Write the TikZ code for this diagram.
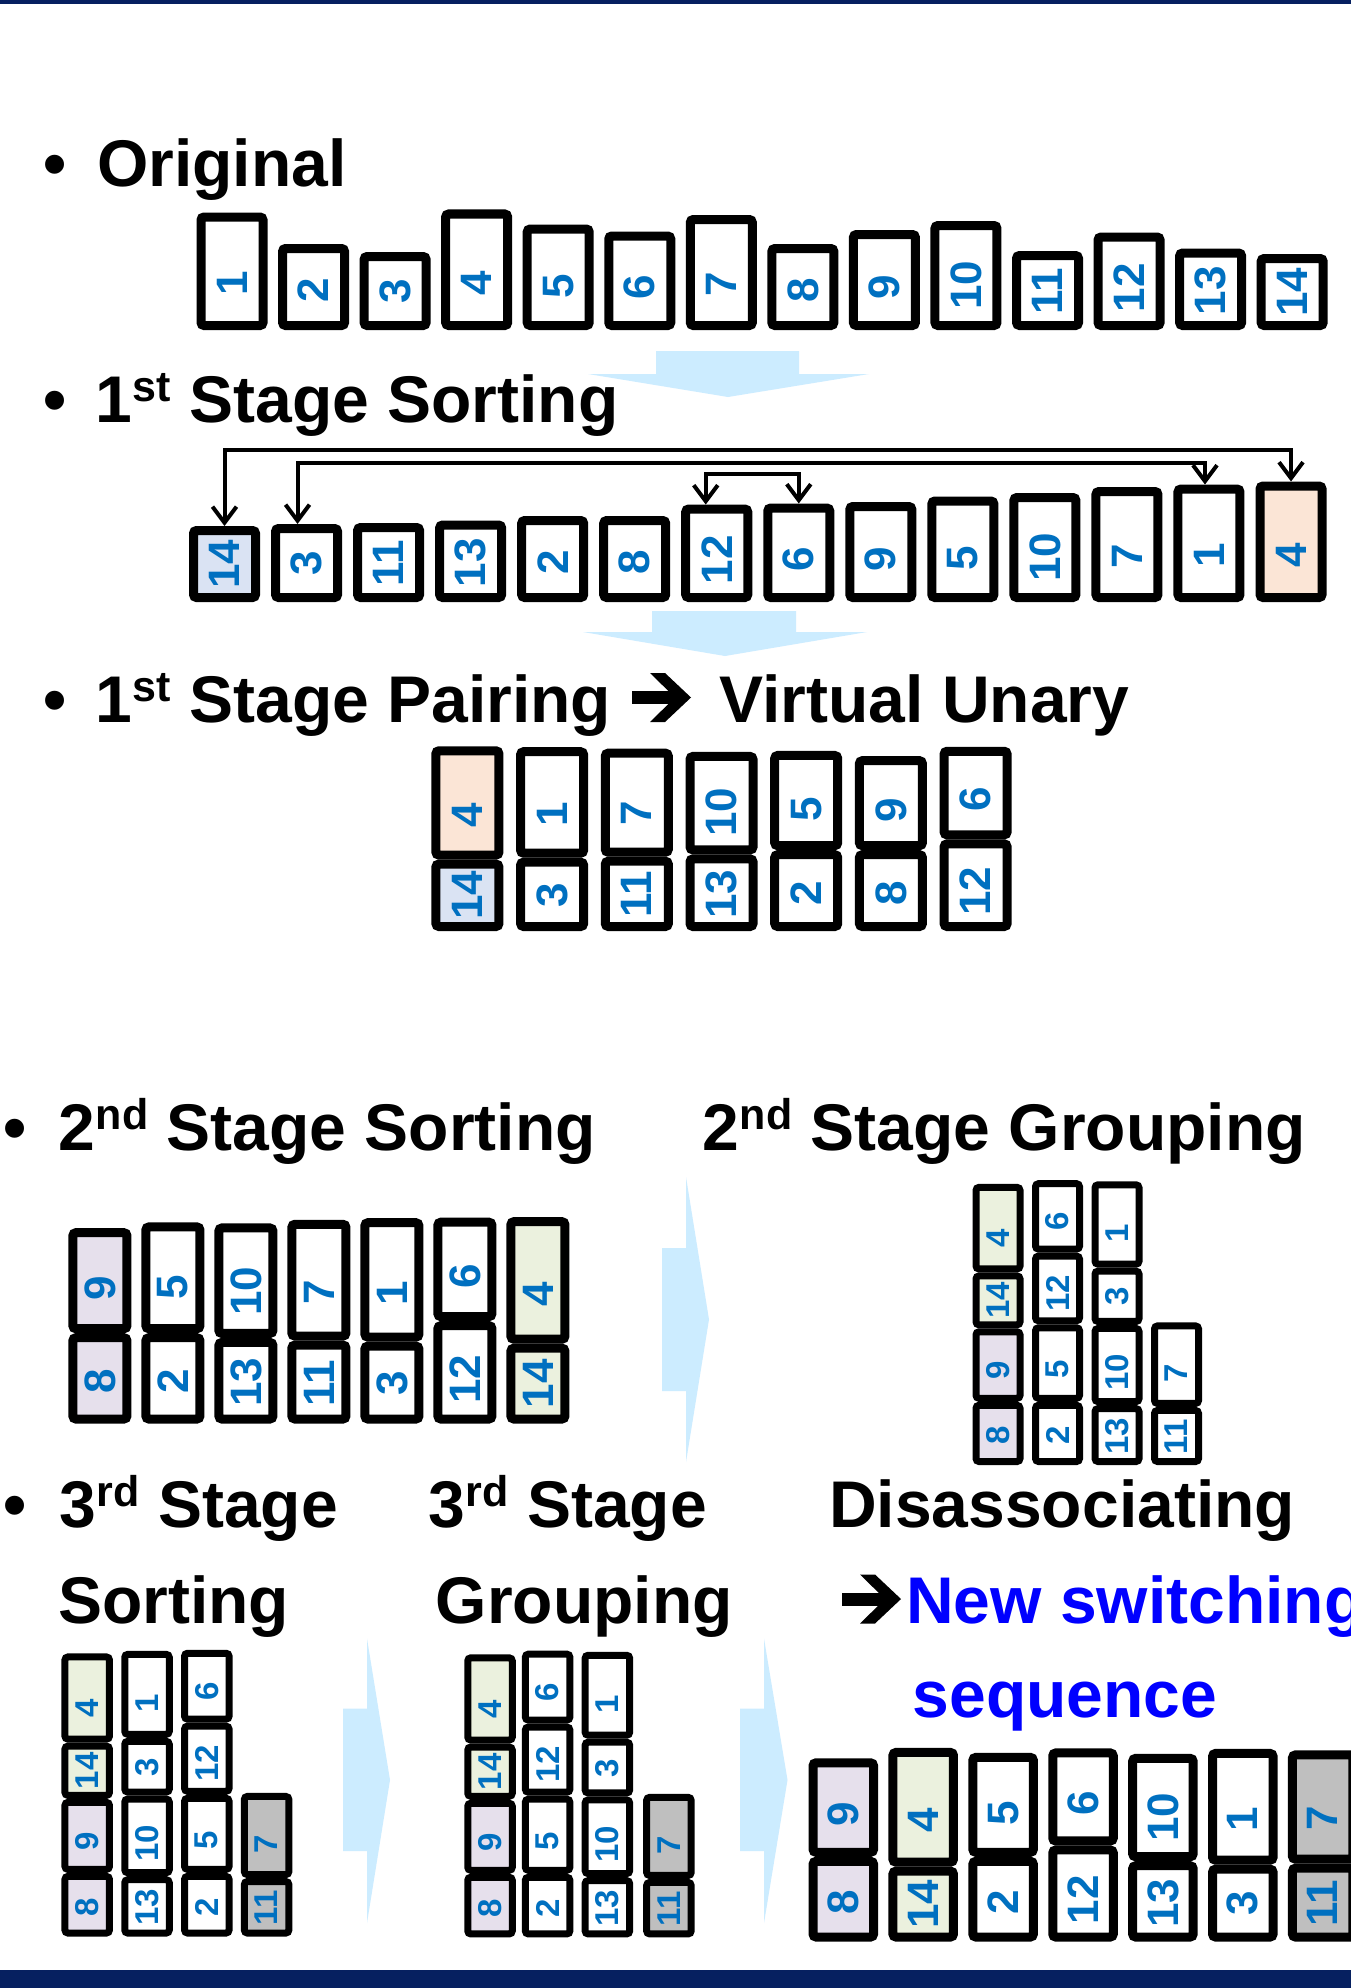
\documentclass[tikz,border=0pt]{standalone}
\usepackage{fontspec}
\setmainfont{Liberation Sans}
\usetikzlibrary{arrows.meta}

\definecolor{navy}{RGB}{6,32,96}
\definecolor{numblue}{RGB}{0,112,192}
\definecolor{pale}{RGB}{204,236,255}
\definecolor{fblue}{RGB}{218,227,243}
\definecolor{forange}{RGB}{251,229,214}
\definecolor{flav}{RGB}{230,224,236}
\definecolor{fgreen}{RGB}{235,241,222}
\definecolor{fgray}{RGB}{191,191,191}
\definecolor{linkblue}{RGB}{0,0,255}

% nominal height of each numbered cell
\newcommand\htof[1]{\ifcase#1\or117.5\or86\or78\or120.5\or105.5\or98.5\or115\or86\or100\or109\or79\or97.5\or81.5\or76\fi}
\newcommand\supr[1]{\kern1pt\raisebox{21pt}{\fontsize{43}{43}\selectfont #1}}

% geometry of the current block: outer width, border, vertical scale, digit size
\def\cw{71}\def\clw{9}\def\sy{1}\def\nfs{44}
\def\cx{0}\def\curb{0}

% one cell, sitting on \curb; \curb moves to its top afterwards
\newcommand\cell[3]{%
  \edef\cNom{\htof{#2}}%
  \pgfmathsetmacro\cHH{\cNom*\sy}%
  \pgfmathsetmacro\cCY{\curb-\cHH/2}%
  \pgfmathsetmacro\cTY{\cCY+0.3*(\cHH-76*\sy)}%
  \pgfmathsetmacro\cIW{\cw-\clw}%
  \pgfmathsetmacro\cIH{\cHH-\clw}%
  \pgfmathsetmacro\cOS{\clw/2}%
  \node[cellbox, fill=#3, line width=\clw pt, outer sep=\cOS pt,
        minimum width=\cIW pt, minimum height=\cIH pt] (#1) at (\cx,\cCY) {};
  \node[num] (#1n) at (\cx,\cTY) {#2};
  \pgfmathsetmacro\cNext{\cCY-\cHH/2}%
  \global\let\curb\cNext}

% a column of cells listed bottom to top
\newcommand\stackcol[4]{%
  \pgfmathsetmacro\cx{#2}\xdef\curb{#3}%
  \foreach \n/\f in {#4}{\cell{#1\n}{\n}{\f}}}

% bold "leads to" arrow, left end of its shaft at #1, centre line at #2
\newcommand\boldarrow[2]{%
  \fill[black, shift={(#1,#2)}] (0,-6.5) rectangle (44,6.5);
  \fill[black, shift={(#1,#2)}] (18,-24.5) -- (33,-24.5) -- (59,0) -- (33,24.5) -- (18,24.5) -- (43,0) -- cycle;}

\tikzset{
  cellbox/.style={draw=black, rounded corners=3pt, inner sep=0pt},
  num/.style={font=\fontsize{\nfs}{\nfs}\selectfont\bfseries, text=numblue, rotate=90, inner sep=0pt},
  headtxt/.style={font=\fontsize{66}{79}\selectfont\bfseries, anchor=base west, inner sep=0pt},
  bulletmark/.style={headtxt, anchor=base},
  link/.style={line width=4pt, arrows={Straight Barb[length=16pt,width=24pt]-Straight Barb[length=16pt,width=24pt]}},
  flow/.style={fill=pale},
}

\begin{document}
\begin{tikzpicture}[x=1pt,y=-1pt]
\path[use as bounding box] (0,0) rectangle (1351,1988);
\clip (0,0) rectangle (1351,1988);
\fill[white] (0,0) rectangle (1351,1988);

% frame bars
\fill[navy] (0,0) rectangle (1351,4);
\fill[navy] (0,1970) rectangle (1351,1988);

% pale flow arrows
\fill[flow] (656,351) -- (799,351) -- (799,374) -- (869,374) -- (728,397) -- (588,374) -- (656,374) -- cycle;
\fill[flow] (652,611) -- (796,611) -- (796,632) -- (867,632) -- (725,656) -- (583,632) -- (652,632) -- cycle;
\fill[flow] (662,1248) -- (686,1248) -- (686,1177) -- (709,1319.5) -- (686,1462) -- (686,1391) -- (662,1391) -- cycle;
\fill[flow] (343,1708.5) -- (367,1708.5) -- (367,1638.5) -- (390,1780) -- (367,1923) -- (367,1851) -- (343,1851) -- cycle;
\fill[flow] (740,1708.5) -- (764,1708.5) -- (764,1638.5) -- (787.5,1780) -- (764,1923) -- (764,1851) -- (740,1851) -- cycle;

% headings
\node[bulletmark] (d1) at (54.6,187) {•};
\node[headtxt] (t1) at (97,187) {Original};
\node[bulletmark] (d2) at (54.6,422) {•};
\node[headtxt] (t2) at (95,422) {1\supr{st} Stage Sorting};
\node[bulletmark] (d3) at (54.6,722) {•};
\node[headtxt] (t3) at (95,722) {1\supr{st} Stage Pairing};
\boldarrow{632}{697.5}
\node[headtxt] (t4) at (719.5,722) {Virtual Unary};
\node[bulletmark] (d5) at (15.5,1150) {•};
\node[headtxt] (t5) at (58,1150) {2\supr{nd} Stage Sorting};
\node[headtxt] (t6) at (702,1150) {2\supr{nd} Stage Grouping};
\node[bulletmark] (d7) at (15.5,1527) {•};
\node[headtxt] (t7) at (59,1527) {3\supr{rd} Stage};
\node[headtxt] (t8) at (58,1623) {Sorting};
\node[headtxt] (t9) at (428,1527) {3\supr{rd} Stage};
\node[headtxt] (t10) at (435.5,1623) {Grouping};
\node[headtxt] (t11) at (829,1527) {Disassociating};
\boldarrow{842}{1599}
\node[headtxt, text=linkblue] (t12) at (906,1623) {New switching};
\node[headtxt, text=linkblue] (t13) at (912.5,1717.6) {sequence};

% original order
\def\cw{71}\def\clw{9}\def\sy{1}\def\nfs{44}
\foreach \n [count=\k] in {1,...,14}{%
  \pgfmathsetmacro\cx{232+(\k-1)*81.55}\xdef\curb{330}%
  \cell{o\n}{\n}{white}}

% first stage sorting
\foreach \n/\f [count=\k] in {14/fblue,3/white,11/white,13/white,2/white,8/white,12/white,6/white,9/white,5/white,10/white,7/white,1/white,4/forange}{%
  \pgfmathsetmacro\cx{224.5+(\k-1)*82.04}\xdef\curb{602}%
  \cell{s\n}{\n}{\f}}

\coordinate (rowA) at (0,450);
\coordinate (rowB) at (0,463);
\coordinate (rowC) at (0,474);
\coordinate (s3top) at ([xshift=-9pt]s3.north);
\coordinate (s1top) at ([xshift=-4pt]s1.north);
\coordinate (s12top) at ([xshift=-11pt]s12.north);
\draw[link] (s14.north) -- (s14.north |- rowA) -- (s4.north |- rowA) -- (s4.north);
\draw[link] (s3top) -- (s3top |- rowB) -- (s1top |- rowB) -- (s1top);
\draw[link] (s12top) -- (s12top |- rowC) -- (s6.north |- rowC) -- (s6.north);

% first stage pairing
\def\cw{72}\def\clw{9}\def\sy{0.94}\def\nfs{44}
\stackcol{p}{467.4}{931}{14/fblue,4/forange}
\stackcol{p}{552.1}{931}{3/white,1/white}
\stackcol{p}{636.8}{931}{11/white,7/white}
\stackcol{p}{721.5}{931}{13/white,10/white}
\stackcol{p}{806.2}{931}{2/white,5/white}
\stackcol{p}{890.9}{931}{8/white,9/white}
\stackcol{p}{975.6}{931}{12/white,6/white}

% second stage sorting
\def\cw{63}\def\clw{9}\def\sy{1.05}\def\nfs{44}
\stackcol{q}{99.9}{1423.5}{8/flav,9/flav}
\stackcol{q}{172.9}{1423.5}{2/white,5/white}
\stackcol{q}{245.9}{1423.5}{13/white,10/white}
\stackcol{q}{318.9}{1423.5}{11/white,7/white}
\stackcol{q}{391.9}{1423.5}{3/white,1/white}
\stackcol{q}{464.9}{1423.5}{12/white,6/white}
\stackcol{q}{537.9}{1423.5}{14/fgreen,4/fgreen}

% second stage grouping
\def\cw{51}\def\clw{7}\def\sy{0.735}\def\nfs{33}
\stackcol{g}{998}{1465}{8/flav,9/flav,14/fgreen,4/fgreen}
\stackcol{g}{1057.5}{1465}{2/white,5/white,12/white,6/white}
\stackcol{g}{1117}{1465}{13/white,10/white,3/white,1/white}
\stackcol{g}{1176.5}{1465}{11/white,7/white}

% third stage sorting
\def\cw{51.5}\def\clw{7}\def\sy{0.74}\def\nfs{33}
\stackcol{r}{87.2}{1936.5}{8/flav,9/flav,14/fgreen,4/fgreen}
\stackcol{r}{147}{1936.5}{13/white,10/white,3/white,1/white}
\stackcol{r}{206.8}{1936.5}{2/white,5/white,12/white,6/white}
\stackcol{r}{266.6}{1936.5}{11/fgray,7/fgray}

% third stage grouping
\stackcol{h}{490}{1937.4}{8/flav,9/flav,14/fgreen,4/fgreen}
\stackcol{h}{547.6}{1937.4}{2/white,5/white,12/white,6/white}
\stackcol{h}{607.4}{1937.4}{13/white,10/white,3/white,1/white}
\stackcol{h}{668.9}{1937.4}{11/fgray,7/fgray}

% resulting switching sequence
\def\cw{69.5}\def\clw{9}\def\sy{0.985}\def\nfs{44}
\stackcol{f}{843.3}{1941.5}{8/flav,9/flav}
\stackcol{f}{923.2}{1941.5}{14/fgreen,4/fgreen}
\stackcol{f}{1003.1}{1941.5}{2/white,5/white}
\stackcol{f}{1083}{1941.5}{12/white,6/white}
\stackcol{f}{1162.9}{1941.5}{13/white,10/white}
\stackcol{f}{1242.8}{1941.5}{3/white,1/white}
\stackcol{f}{1322.7}{1941.5}{11/fgray,7/fgray}
\end{tikzpicture}
\end{document}
